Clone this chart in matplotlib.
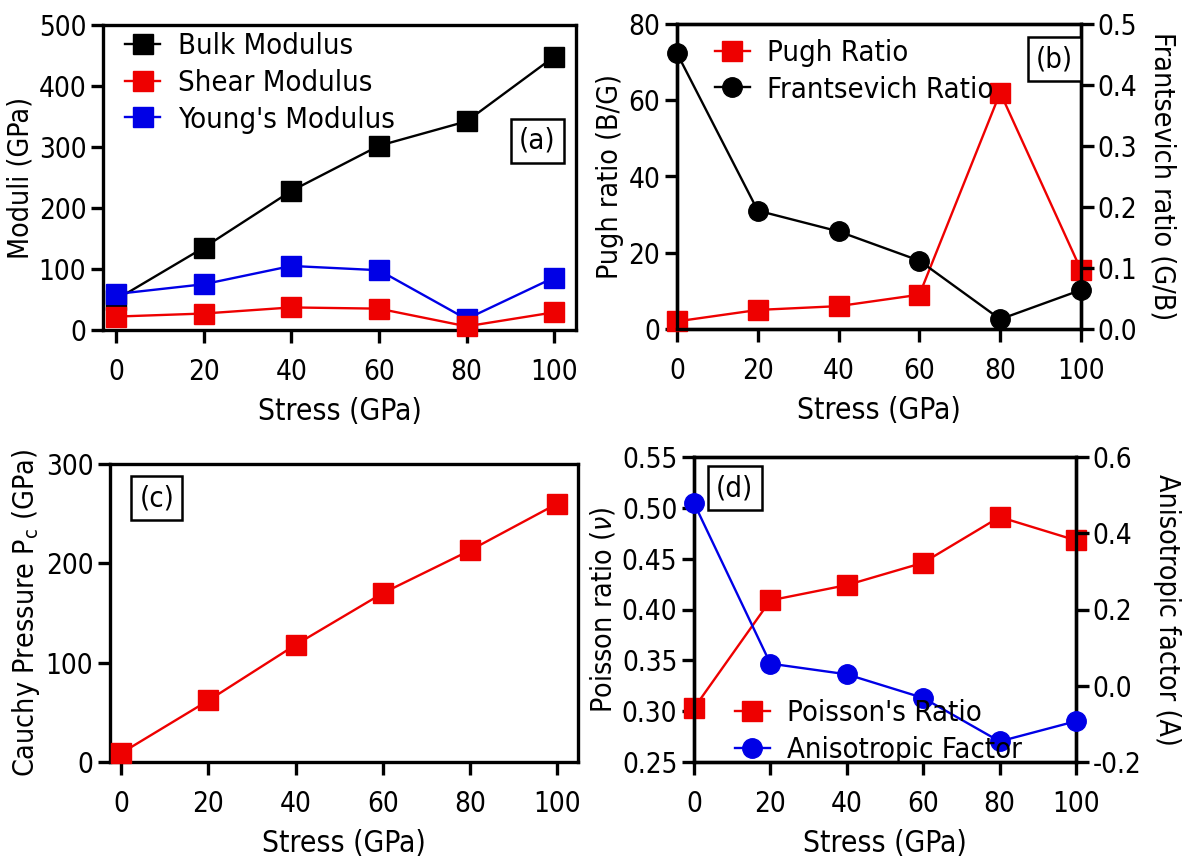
import matplotlib
matplotlib.use("Agg")
import matplotlib.pyplot as plt

plt.rcParams['font.family'] = ['DejaVu Sans']
plt.rcParams['font.stretch'] = 'condensed'
plt.rcParams['axes.unicode_minus'] = False

# ---------------- data ----------------
stress = [0, 20, 40, 60, 80, 100]
bulk = [50, 135, 228, 302, 342, 448]
shear = [22, 27, 37, 35, 6, 29]
young = [59, 75, 105, 98, 18, 86]

pugh = [2, 5, 6, 9, 62, 15.5]
frantsevich = [0.452, 0.194, 0.160, 0.112, 0.016, 0.064]

cauchy = [9, 62, 118, 170, 213, 260]

poisson = [0.303, 0.409, 0.424, 0.446, 0.491, 0.468]
aniso = [0.479, 0.058, 0.030, -0.032, -0.146, -0.093]

xticks = [0, 20, 40, 60, 80, 100]

W, H = 1185, 859
fig = plt.figure(figsize=(W / 100, H / 100), dpi=100)


def ax_at(l, r, t, b):
    return fig.add_axes([l / W, 1 - b / H, (r - l) / W, (b - t) / H])


TICK = 20
YLAB = 20.5
XLAB = 21.5
LEG = 21
LW = 1.7
MS = 14
SPW = 2.4
RED = '#ee0000'
BLUE = '#0000e6'


def style(ax):
    for s in ax.spines.values():
        s.set_linewidth(SPW)
    ax.tick_params(axis='both', which='both', direction='out', length=9,
                   width=SPW, labelsize=TICK, pad=3)
    ax.tick_params(axis='x', pad=11)


def panel_label(ax, txt, x, y):
    ax.text(x, y, txt, transform=ax.transAxes, fontsize=LEG, ha='center', va='center',
            bbox=dict(boxstyle='square,pad=0.28', fc='white', ec='black', lw=1.8), zorder=10)


def leg(ax, handles, labels, loc, anchor):
    ax.legend(handles, labels, loc=loc, bbox_to_anchor=anchor, frameon=False,
              fontsize=LEG, handlelength=1.2, handletextpad=0.6, labelspacing=0.3,
              borderaxespad=0, borderpad=0)


# ---------------- (a) ----------------
ax = ax_at(103, 576, 25, 330)
h1, = ax.plot(stress, bulk, '-s', color='black', lw=LW, ms=MS, clip_on=False, zorder=3)
h2, = ax.plot(stress, shear, '-s', color=RED, lw=LW, ms=MS, clip_on=False, zorder=4)
h3, = ax.plot(stress, young, '-s', color=BLUE, lw=LW, ms=MS, clip_on=False, zorder=3)
ax.set_xlim(-3, 105)
ax.set_ylim(0, 500)
ax.set_xticks(xticks)
ax.set_yticks([0, 100, 200, 300, 400, 500])
ax.set_xlabel('Stress (GPa)', fontsize=XLAB, labelpad=8)
ax.set_ylabel('Moduli (GPa)', fontsize=YLAB, labelpad=3)
style(ax)
leg(ax, [h1, h2, h3], ['Bulk Modulus', 'Shear Modulus', "Young's Modulus"],
    'upper left', (0.047, 0.977))
panel_label(ax, '(a)', 0.918, 0.62)

# ---------------- (b) ----------------
ax = ax_at(677, 1081, 24, 329)
ax2 = ax.twinx()
l1, = ax.plot(stress, pugh, '-s', color=RED, lw=LW, ms=MS, clip_on=False, zorder=3)
l2, = ax2.plot(stress, frantsevich, '-o', color='black', lw=LW, ms=MS, clip_on=False, zorder=3)
ax.set_xlim(0, 100)
ax.set_ylim(0, 80)
ax2.set_ylim(0, 0.5)
ax.set_xticks(xticks)
ax.set_yticks([0, 20, 40, 60, 80])
ax2.set_yticks([0, 0.1, 0.2, 0.3, 0.4, 0.5])
ax2.set_yticklabels(['0.0', '0.1', '0.2', '0.3', '0.4', '0.5'])
ax.set_xlabel('Stress (GPa)', fontsize=XLAB, labelpad=8)
ax.set_ylabel('Pugh ratio (B/G)', fontsize=YLAB, labelpad=3)
ax2.set_ylabel('Frantsevich ratio (G/B)', fontsize=YLAB, rotation=270, va='bottom', labelpad=8)
style(ax)
style(ax2)
leg(ax2, [l1, l2], ['Pugh Ratio', 'Frantsevich Ratio'], 'upper left', (0.094, 0.951))
panel_label(ax2, '(b)', 0.935, 0.885)

# ---------------- (c) ----------------
ax = ax_at(110, 578, 464, 762)
ax.plot(stress, cauchy, '-s', color=RED, lw=LW, ms=MS, clip_on=False, zorder=3)
ax.set_xlim(-2.6, 104.8)
ax.set_ylim(0, 300)
ax.set_xticks(xticks)
ax.set_yticks([0, 100, 200, 300])
ax.set_xlabel('Stress (GPa)', fontsize=XLAB, labelpad=8)
ax.set_ylabel('Cauchy Pressure P$_\\mathregular{c}$ (GPa)', fontsize=YLAB, labelpad=3)
style(ax)
panel_label(ax, '(c)', 0.10, 0.885)

# ---------------- (d) ----------------
ax = ax_at(694, 1076, 457, 762)
ax2 = ax.twinx()
l1, = ax.plot(stress, poisson, '-s', color=RED, lw=LW, ms=MS, clip_on=False, zorder=3)
l2, = ax2.plot(stress, aniso, '-o', color=BLUE, lw=LW, ms=MS, clip_on=False, zorder=3)
ax.set_xlim(0, 100)
ax.set_ylim(0.25, 0.55)
ax2.set_ylim(-0.2, 0.6)
ax.set_xticks(xticks)
ax.set_yticks([0.25, 0.30, 0.35, 0.40, 0.45, 0.50, 0.55])
ax.set_yticklabels(['0.25', '0.30', '0.35', '0.40', '0.45', '0.50', '0.55'])
ax2.set_yticks([-0.2, 0.0, 0.2, 0.4, 0.6])
ax2.set_yticklabels(['-0.2', '0.0', '0.2', '0.4', '0.6'])
ax.set_xlabel('Stress (GPa)', fontsize=XLAB, labelpad=8)
ax.set_ylabel('Poisson ratio ($\\it{\\nu}$)', fontsize=YLAB, labelpad=3)
ax2.set_ylabel('Anisotropic factor (A)', fontsize=YLAB, rotation=270, va='bottom', labelpad=8)
style(ax)
style(ax2)
leg(ax2, [l1, l2], ["Poisson's Ratio", 'Anisotropic Factor'], 'lower left', (0.107, -0.007))
panel_label(ax2, '(d)', 0.107, 0.898)

fig.savefig('out.png', dpi=100)
